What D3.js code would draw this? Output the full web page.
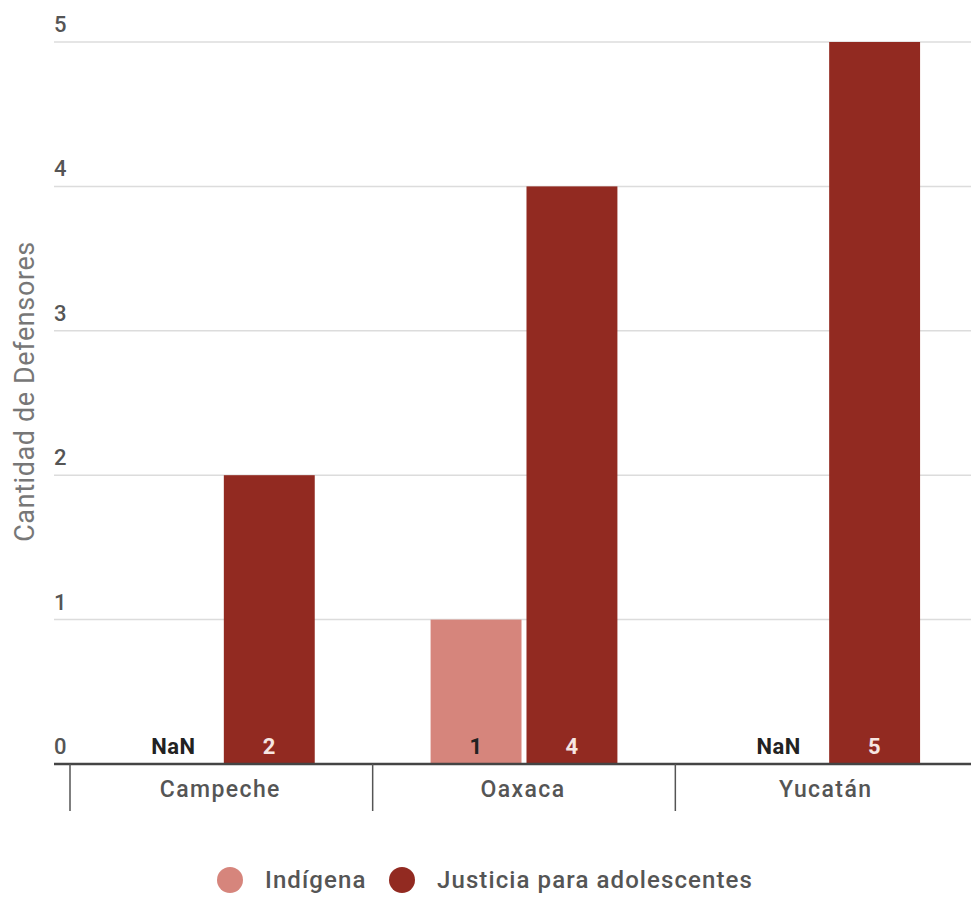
<!DOCTYPE html>
<html>
<head>
<meta charset="utf-8">
<script src="https://cdn.jsdelivr.net/npm/d3@7"></script>
<style>
  html, body { margin: 0; padding: 0; background: #fff; }
  svg { display: block; font-family: Roboto, "Noto Sans", sans-serif; }
</style>
</head>
<body>
<svg id="chart" width="971" height="898"></svg>
<script>
const categories = ["Campeche", "Oaxaca", "Yucatán"];
const seriesNames = ["Indígena", "Justicia para adolescentes"];
const indigena = [null, 1, null];
const justicia = [2, 4, 5];
const yTicks = [0, 1, 2, 3, 4, 5];
const yTitle = "Cantidad de Defensores";
const colors = ["#d6857c", "#922a21"];
const labelColors = ["#222", "#f6e6e2"];

const seriesValues = [indigena, justicia];
const svg = d3.select("#chart");

const x = d3.scaleBand().domain(categories).range([70, 978]).paddingInner(0).paddingOuter(0);
const xs = d3.scaleBand().domain(seriesNames).range([0, x.bandwidth()]).paddingInner(0.052).paddingOuter(0.604);
const y = d3.scaleLinear().domain([0, 5]).range([764, 42]);

// gridlines
const grid = svg.append("g");
grid.selectAll("line").data(yTicks.filter(d => d > 0)).join("line")
  .attr("x1", 54).attr("x2", 971)
  .attr("y1", d => y(d)).attr("y2", d => y(d))
  .attr("stroke", "#dcdcdc").attr("stroke-width", 1.5);

// y tick labels
svg.append("g").selectAll("text").data(yTicks).join("text")
  .attr("x", 54).attr("y", d => y(d) - 10)
  .attr("font-size", 22).attr("font-weight", 500).attr("fill", "#555")
  .style("letter-spacing", "0.5px")
  .text(d => d);

// y title
svg.append("text")
  .attr("transform", `translate(34, ${(238 + 545) / 2}) rotate(-90)`)
  .attr("text-anchor", "middle")
  .attr("font-size", 27).attr("fill", "#777")
  .style("letter-spacing", "0.6px")
  .text(yTitle);

// bars
const rows = categories.map((c, i) => ({ c, vals: seriesNames.map((s, j) => ({ s, j, v: seriesValues[j][i] })) }));
const groups = svg.append("g").selectAll("g").data(rows).join("g")
  .attr("transform", d => `translate(${x(d.c)},0)`);

groups.selectAll("rect").data(d => d.vals.filter(v => v.v != null)).join("rect")
  .attr("x", d => xs(d.s)).attr("width", xs.bandwidth())
  .attr("y", d => y(d.v)).attr("height", d => y(0) - y(d.v))
  .attr("fill", d => colors[d.j]);

groups.selectAll("text").data(d => d.vals).join("text")
  .attr("x", d => xs(d.s) + xs.bandwidth() / 2)
  .attr("y", y(0) - 10)
  .attr("text-anchor", "middle")
  .attr("font-size", 22).attr("font-weight", "bold")
  .style("letter-spacing", "0.5px")
  .attr("fill", d => d.v == null ? "#222" : labelColors[d.j])
  .text(d => d.v == null ? "NaN" : d.v);

// baseline
svg.append("line").attr("x1", 54).attr("x2", 971).attr("y1", y(0)).attr("y2", y(0))
  .attr("stroke", "#444").attr("stroke-width", 2.5);

// category separators
svg.append("g").selectAll("line").data(categories).join("line")
  .attr("x1", d => x(d)).attr("x2", d => x(d))
  .attr("y1", y(0)).attr("y2", 811)
  .attr("stroke", "#555").attr("stroke-width", 1.5);

// category labels
svg.append("g").selectAll("text").data(categories).join("text")
  .attr("x", d => x(d) + x.bandwidth() / 2 - 1)
  .attr("y", 797)
  .attr("text-anchor", "middle")
  .attr("font-size", 23).attr("font-weight", 500).attr("fill", "#555")
  .style("letter-spacing", "1.4px")
  .text(d => d);

// legend
const legend = svg.append("g");
const legendItems = [
  { name: seriesNames[0], color: colors[0], cx: 230 },
  { name: seriesNames[1], color: colors[1], cx: 402 }
];
legend.selectAll("circle").data(legendItems).join("circle")
  .attr("cx", d => d.cx).attr("cy", 880).attr("r", 13)
  .attr("fill", d => d.color);
legend.selectAll("text").data(legendItems).join("text")
  .attr("x", d => d.cx + 35).attr("y", 888)
  .attr("font-size", 24).attr("font-weight", 500).attr("fill", "#555")
  .style("letter-spacing", "1.1px")
  .text(d => d.name);
</script>
</body>
</html>
